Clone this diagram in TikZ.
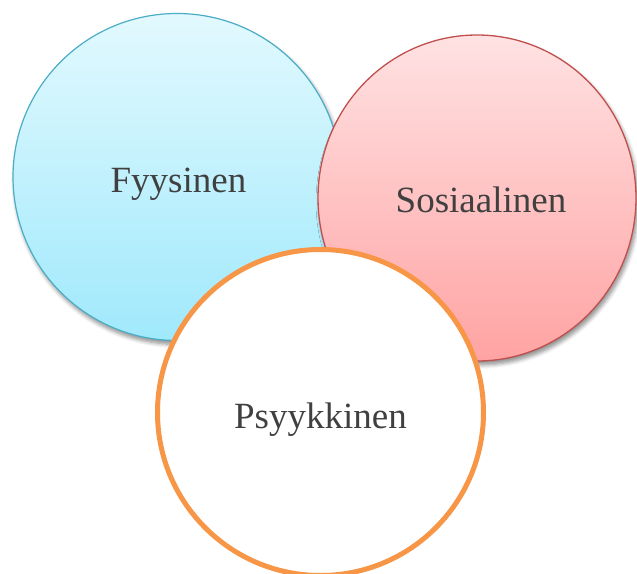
\documentclass[tikz,border=0pt]{standalone}
\usepackage{fontspec}
\setmainfont{Liberation Serif}
\usetikzlibrary{shadows.blur,shapes.geometric}
\definecolor{txtgray}{HTML}{404040}
\definecolor{bluedraw}{HTML}{4BACC6}
\definecolor{bluetop}{HTML}{E2F9FE}
\definecolor{bluebot}{HTML}{A0E9FC}
\definecolor{reddraw}{HTML}{C0504D}
\definecolor{redtop}{HTML}{FFE2E3}
\definecolor{redbot}{HTML}{FFA3A3}
\definecolor{orangedraw}{HTML}{F79646}
\tikzset{
  ball/.style 2 args={ellipse, inner sep=0pt, minimum width=#1, minimum height=#2},
  shad/.style={blur shadow={shadow xshift=2pt, shadow yshift=-4pt, shadow blur steps=6, shadow opacity=45, shadow blur radius=4pt}},
  lbl/.style={anchor=base, text=txtgray, font=\fontsize{37}{40}\selectfont}
}
\begin{document}
\begin{tikzpicture}[x=1pt,y=-1pt]
\useasboundingbox (0,0) rectangle (637,573);
\node[ball={328pt}{327pt}, shad, draw=bluedraw, line width=1.2pt, top color=bluetop, bottom color=bluebot] (fyy) at (177,177) {};
\node[ball={318pt}{326pt}, shad, draw=reddraw, line width=1.3pt, top color=redtop, bottom color=redbot] (sos) at (477,198) {};
\node[ball={326pt}{326pt}, draw=orangedraw, line width=5pt, fill=white] (psy) at (320.5,412.5) {};
\node[lbl] (tf) at (178.5,192) {Fyysinen};
\node[lbl] (ts) at (481,212) {Sosiaalinen};
\node[lbl] (tp) at (320.5,428) {Psyykkinen};
\end{tikzpicture}
\end{document}
